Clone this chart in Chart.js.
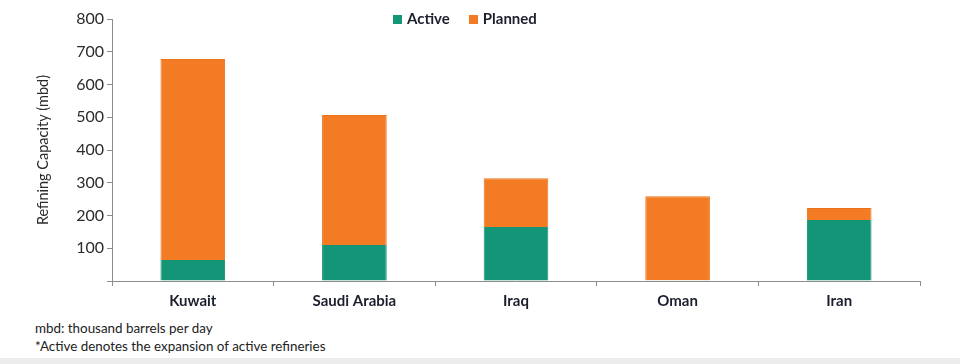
<!DOCTYPE html>
<html>
<head>
<meta charset="utf-8">
<script src="https://cdn.jsdelivr.net/npm/chart.js@4.4.1/dist/chart.umd.min.js"></script>
<style>
  body { margin: 0; background: #fff; font-family: Lato, "Open Sans", sans-serif; }
  #wrap { position: relative; width: 960px; height: 364px; overflow: hidden; }
  #box { position: absolute; left: 0; top: 0; width: 960px; height: 316px; }
  #legend { position: absolute; top: 9px; left: 393px; font-weight: bold; font-size: 15px; color: #1c1f2e; white-space: nowrap; }
  #legend span.sw { display: inline-block; width: 9px; height: 9px; margin-right: 5px; vertical-align: 0px; }
  #legend span.it { margin-right: 19px; }
  #notes { position: absolute; left: 35px; top: 319px; font-size: 13.4px; color: #222; line-height: 18px; }
  #band { position: absolute; left: 0; top: 358px; width: 960px; height: 6px; background: #ececec; }
</style>
</head>
<body>
<div id="wrap">
  <div id="box"><canvas id="refining"></canvas></div>
  <div id="legend"></div>
  <div id="notes">mbd: thousand barrels per day<br>*Active denotes the expansion of active refineries</div>
  <div id="band"></div>
</div>
<script>
// data
const countries = ['Kuwait', 'Saudi Arabia', 'Iraq', 'Oman', 'Iran'];
const activeCap = [64, 110, 165, 2, 186];
const plannedCap = [614, 397, 149, 257, 37];
const yTicks = [100, 200, 300, 400, 500, 600, 700, 800];

const green = '#139678';
const orange = '#f27b24';

const data = {
  labels: countries,
  datasets: [
    { label: 'Active', data: activeCap, backgroundColor: green, borderColor: '#0f8a6e', borderWidth: { left: 1, right: 1 } },
    { label: 'Planned', data: plannedCap, backgroundColor: orange, borderColor: '#ec7117', borderWidth: { left: 1, right: 1, top: 1 } }
  ]
};

// html legend
const legendEl = document.getElementById('legend');
data.datasets.forEach(ds => {
  legendEl.innerHTML += '<span class="it"><span class="sw" style="background:' + ds.backgroundColor + '"></span>' + ds.label + '</span>';
});

const config = {
  type: 'bar',
  data: data,
  options: {
    responsive: false,
    animation: false,
    maintainAspectRatio: false,
    layout: { padding: { top: 19, right: 40, left: 0, bottom: 0 } },
    categoryPercentage: 0.8,
    barPercentage: 0.5,
    plugins: {
      legend: { display: false },
      tooltip: { enabled: false }
    },
    scales: {
      x: {
        stacked: true,
        border: { color: '#8c8c8c', width: 1 },
        grid: { drawOnChartArea: false, drawTicks: true, tickLength: 5, color: '#8c8c8c', offset: true },
        ticks: { color: '#1c1f2e', font: { family: 'Lato', size: 15, weight: 'bold' }, padding: 6 }
      },
      y: {
        stacked: true,
        min: 0,
        max: 800,
        afterFit: axis => { axis.width = 112; },
        afterBuildTicks: axis => { axis.ticks = [0].concat(yTicks).map(v => ({ value: v })); },
        border: { color: '#8c8c8c', width: 1 },
        grid: { drawOnChartArea: false, drawTicks: true, tickLength: 5, color: '#8c8c8c' },
        ticks: {
          color: '#2b2b2b',
          font: { family: 'Lato', size: 16 },
          padding: 3,
          callback: v => (v === 0 ? '' : v)
        },
        title: {
          display: true,
          text: 'Refining Capacity (mbd)',
          color: '#2b2b2b',
          font: { family: 'Lato', size: 14.5 },
          padding: { top: 35, bottom: 0 }
        }
      }
    }
  }
};

const cv = document.getElementById('refining');
cv.width = 960;
cv.height = 316;
new Chart(cv.getContext('2d'), config);
</script>
</body>
</html>
